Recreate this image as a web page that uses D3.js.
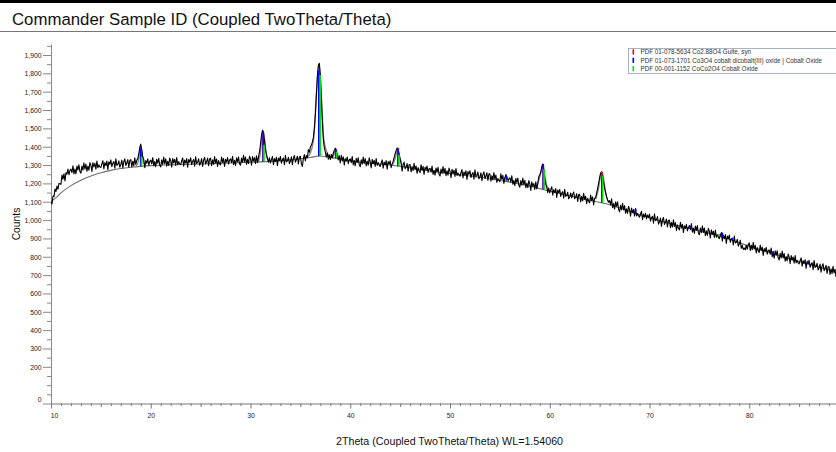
<!DOCTYPE html>
<html>
<head>
<meta charset="utf-8">
<script src="https://cdn.jsdelivr.net/npm/d3@7"></script>
<style>
  body { margin: 0; background: #fff; }
  svg { display: block; font-family: "Liberation Sans", Arial, sans-serif; }
</style>
</head>
<body>
<svg id="chart" width="836" height="452"></svg>
<script>
// scan: 2Theta start / step, counts (one row per degree)
var scanStart = 10.0, scanStep = 0.1;
var counts = [
  1100,1088,1131,1128,1169,1156,1185,1168,1200,1198,
  1195,1246,1223,1252,1214,1259,1250,1278,1247,1271,
  1278,1259,1296,1252,1278,1252,1294,1273,1301,1264,
  1256,1295,1272,1312,1278,1305,1266,1294,1272,1313,
  1299,1265,1313,1290,1310,1278,1322,1285,1301,1290,
  1287,1306,1324,1279,1313,1297,1322,1275,1318,1304,
  1328,1291,1310,1319,1283,1334,1298,1304,1323,1288,
  1304,1327,1284,1319,1334,1298,1311,1330,1288,1325,
  1330,1290,1321,1297,1339,1304,1326,1335,1362,1397,
  1414,1382,1345,1330,1285,1324,1310,1334,1299,1320,
  1327,1306,1341,1295,1319,1291,1332,1310,1337,1299,
  1290,1328,1304,1343,1308,1334,1294,1321,1298,1338,
  1324,1289,1336,1312,1331,1298,1341,1303,1318,1306,
  1303,1322,1339,1294,1327,1311,1335,1288,1330,1316,
  1339,1302,1321,1330,1294,1345,1309,1315,1334,1299,
  1312,1335,1292,1327,1342,1306,1319,1338,1296,1333,
  1337,1297,1328,1304,1346,1311,1333,1293,1324,1307,
  1301,1344,1314,1336,1292,1331,1317,1341,1306,1327,
  1334,1313,1348,1302,1326,1298,1339,1317,1344,1306,
  1300,1338,1314,1353,1318,1344,1304,1331,1308,1348,
  1334,1299,1346,1322,1341,1308,1351,1313,1345,1372,
  1412,1462,1490,1474,1432,1388,1356,1335,1316,1340,
  1311,1330,1347,1302,1335,1319,1343,1296,1338,1324,
  1347,1310,1329,1338,1302,1353,1317,1323,1342,1307,
  1322,1345,1302,1337,1352,1316,1329,1348,1306,1343,
  1348,1308,1292,1335,1357,1322,1352,1340,1384,1370,
  1398,1408,1425,1448,1500,1572,1680,1782,1842,1855,
  1792,1662,1540,1442,1395,1372,1344,1366,1332,1356,
  1330,1358,1338,1366,1380,1392,1370,1352,1328,1350,
  1311,1353,1322,1345,1300,1335,1321,1344,1308,1328,
  1334,1313,1347,1301,1325,1296,1337,1314,1340,1302,
  1291,1329,1305,1344,1309,1335,1295,1322,1299,1339,
  1319,1284,1331,1307,1326,1293,1336,1298,1313,1301,
  1292,1311,1328,1283,1316,1300,1324,1277,1319,1305,
  1323,1286,1305,1320,1342,1362,1380,1393,1384,1358,
  1333,1310,1267,1301,1316,1280,1290,1308,1266,1302,
  1303,1262,1292,1269,1310,1275,1295,1255,1286,1268,
  1259,1302,1271,1293,1249,1288,1273,1295,1260,1280,
  1282,1261,1295,1249,1272,1245,1284,1262,1288,1250,
  1240,1278,1254,1292,1256,1282,1242,1269,1245,1284,
  1266,1231,1277,1254,1272,1238,1281,1243,1257,1245,
  1239,1258,1275,1230,1262,1245,1269,1222,1264,1250,
  1269,1232,1250,1259,1223,1274,1237,1243,1262,1225,
  1235,1258,1215,1249,1263,1227,1239,1258,1216,1252,
  1252,1212,1242,1219,1259,1224,1245,1205,1226,1217,
  1209,1252,1222,1244,1200,1230,1248,1236,1210,1226,
  1230,1208,1242,1195,1217,1188,1228,1205,1229,1190,
  1179,1216,1191,1229,1194,1217,1176,1201,1177,1215,
  1198,1162,1209,1185,1199,1167,1209,1170,1202,1236,
  1247,1262,1290,1306,1268,1225,1193,1180,1150,1175,
  1148,1166,1182,1136,1166,1150,1172,1124,1164,1149,
  1167,1129,1147,1155,1119,1168,1129,1134,1152,1116,
  1126,1148,1121,1140,1153,1116,1126,1144,1101,1139,
  1140,1099,1129,1105,1146,1113,1130,1090,1119,1103,
  1094,1136,1106,1127,1082,1119,1122,1148,1172,1202,
  1232,1256,1263,1240,1206,1175,1150,1126,1110,1098,
  1106,1083,1116,1068,1090,1060,1099,1075,1100,1060,
  1045,1081,1055,1092,1055,1079,1037,1062,1037,1075,
  1058,1021,1066,1040,1057,1022,1063,1023,1036,1024,
  1016,1033,1048,1002,1033,1016,1037,1006,1028,1013,
  1033,994,1013,1021,983,1034,997,1002,1019,978,
  989,1011,966,1000,1014,976,988,1006,963,998,
  1000,958,988,962,1002,965,986,944,973,955,
  946,988,956,977,932,969,954,977,941,960,
  970,948,981,934,957,927,967,944,970,930,
  920,957,931,969,932,957,915,941,916,955,
  938,902,947,922,939,905,946,907,920,907,
  899,916,932,885,917,899,921,873,913,898,
  918,879,896,902,864,913,875,879,895,858,
  869,890,846,862,840,848,838,863,841,867,
  876,834,864,838,879,842,862,821,850,832,
  823,864,833,853,807,845,829,851,814,834,
  837,814,848,800,822,792,832,808,833,794,
  783,819,793,831,794,818,776,801,777,815,
  798,762,807,782,799,765,806,767,780,767,
  761,779,794,748,779,762,784,736,776,761,
  781,743,760,768,730,780,742,747,764,728,
  739,760,716,749,762,724,736,753,709,745,
  746,704,734,708,748,712,732,690
];

// fitted background [2Theta, counts]
var background = [
  [10,1100],[10.5,1122],[11,1148],[12,1188],[13,1217],[14,1240],[15,1258],[16,1271],
  [17,1281],[18,1288],[19,1293],[20,1297],[22,1301],[25,1306],[28,1311],[30,1315],
  [32,1320],[34,1328],[35,1334],[36,1341],[36.9,1349],[38,1342],[39,1333],[40,1323],
  [42,1310],[44,1300],[46,1285],[48,1268],[50,1254],[52,1240],[54,1225],[56,1207],
  [58,1185],[60,1158],[62,1131],[64,1108],[66,1084],[68,1048],[70,1012],[72,982],
  [74,955],[76,928],[78,895],[80,858],[82,824],[84,790],[86,760],[88,728],[88.8,716]
];

// fitted peak profiles
var fitPeaks = [
  [[18.5,1291],[18.75,1320],[18.9,1375],[19.0,1398],[19.1,1372],[19.25,1318],[19.5,1295]],
  [[30.8,1318],[31.0,1372],[31.15,1460],[31.27,1487],[31.4,1450],[31.55,1372],[31.8,1321]],
  [[35.6,1338],[36.0,1366],[36.35,1452],[36.6,1680],[36.87,1850],[37.1,1680],[37.35,1440],[37.7,1364],[38.0,1342]],
  [[38.2,1340],[38.42,1366],[38.55,1388],[38.68,1366],[38.9,1335]],
  [[44.3,1303],[44.55,1346],[44.75,1390],[44.95,1346],[45.2,1298]],
  [[55.4,1213],[55.6,1236],[55.8,1210]],
  [[58.7,1172],[58.95,1226],[59.15,1266],[59.3,1305],[59.45,1262],[59.65,1200],[59.9,1160]],
  [[64.6,1114],[64.9,1176],[65.1,1246],[65.22,1262],[65.35,1240],[65.6,1150],[65.9,1094]]
];

var phaseNames = [
  "PDF 01-078-5634 Co2.88O4 Guite, syn",
  "PDF 01-073-1701 Co3O4 cobalt dicobalt(III) oxide | Cobalt Oxide",
  "PDF 00-001-1152 CoCo2O4 Cobalt Oxide"
];
var phaseColors = ["#ff0000", "#0000ff", "#00e400"];

// reference sticks [2Theta, top in counts]
var sticksRed = [[19.0,1380],[31.27,1470],[36.85,1800],[38.55,1376],[44.8,1394],[59.35,1290],[65.22,1263]];
var sticksBlue = [[19.0,1392],[31.27,1482],[36.85,1818],[38.55,1388],[44.8,1387],[55.65,1240],[59.35,1306],
  [65.22,1234],[68.6,1062],[74.1,966],[77.3,932],[78.3,902],[82.4,831],[85.9,770]];
var sticksGreen = [[19.0,1345],[31.27,1409],[36.9,1791],[38.55,1373],[44.8,1356],[55.65,1219],[59.35,1277],
  [65.22,1241],[76.9,924]];

var yTickLabels = [0,200,300,400,500,600,700,800,900,1000,1100,1200,1300,1400,1500,1600,1700,1800,1900];
var xTickLabels = [10,20,30,40,50,60,70,80];

var svg = d3.select("#chart");
var W = 836, H = 452;

var x = d3.scaleLinear().domain([10, 90]).range([51, 849]);
var y = d3.scaleLinear().domain([0, 1960]).range([403.5, 44]);
var bgAt = d3.scaleLinear().domain(background.map(function(d){ return d[0]; }))
  .range(background.map(function(d){ return d[1]; }));

// header
svg.append("rect").attr("x", 0).attr("y", 0).attr("width", W).attr("height", 3).attr("fill", "#000");
svg.append("text").attr("x", 12).attr("y", 25).attr("font-size", 16.8).attr("fill", "#111")
  .text("Commander Sample ID (Coupled TwoTheta/Theta)");
svg.append("line").attr("x1", 0).attr("x2", W).attr("y1", 31.5).attr("y2", 31.5)
  .attr("stroke", "#777").attr("stroke-width", 1);

svg.append("clipPath").attr("id", "plotclip").append("rect")
  .attr("x", 51).attr("y", 35).attr("width", W - 51).attr("height", 369);

// y axis
var yAxis = d3.axisLeft(y).tickValues(d3.range(0, 1951, 50)).tickSize(4).tickSizeOuter(0)
  .tickFormat(function(d){ return yTickLabels.indexOf(d) >= 0 ? d3.format(",")(d) : ""; });
var gy = svg.append("g").attr("transform", "translate(51,0)").call(yAxis);
gy.select(".domain").attr("stroke", "#888");
gy.selectAll(".tick line").attr("stroke", "#888")
  .attr("x2", function(d){ return yTickLabels.indexOf(d) >= 0 ? -8 : -4; });
gy.selectAll(".tick text").attr("x", -9.5).attr("font-size", 6.8).attr("fill", "#222")
  .attr("font-family", "Liberation Sans, Arial, sans-serif")
  .attr("dy", function(d){ return d === 0 ? "-0.25em" : "0.35em"; });

// x axis
var xAxis = d3.axisBottom(x).tickValues(d3.range(10, 89, 1)).tickSize(2.5).tickSizeOuter(0)
  .tickFormat(function(d){ return xTickLabels.indexOf(d) >= 0 ? d : ""; });
var gx = svg.append("g").attr("transform", "translate(0,403.5)").call(xAxis);
gx.select(".domain").attr("stroke", "#777");
gx.selectAll(".tick line").attr("stroke", "#777")
  .attr("y2", function(d){ return d % 10 === 0 ? 5 : (d % 5 === 0 ? 3.5 : 2.5); });
gx.selectAll(".tick text").attr("y", 14).attr("dy", 0).attr("font-size", 6.8).attr("fill", "#222")
  .attr("font-family", "Liberation Sans, Arial, sans-serif")
  .attr("dx", function(d){ return d === 10 ? 3 : 0; });

// axis titles
svg.append("text").attr("transform", "translate(19.5,224) rotate(-90)")
  .attr("text-anchor", "middle").attr("font-size", 10.3).attr("fill", "#111").text("Counts");
svg.append("text").attr("x", 449.5).attr("y", 444.5).attr("text-anchor", "middle")
  .attr("font-size", 10.7).attr("fill", "#111")
  .text("2Theta (Coupled TwoTheta/Theta) WL=1.54060");

var plot = svg.append("g").attr("clip-path", "url(#plotclip)");

var line = d3.line().x(function(d){ return x(d[0]); }).y(function(d){ return y(d[1]); });

// background and fitted profiles
plot.append("path").datum(background).attr("fill", "none").attr("stroke", "#6e6e6e")
  .attr("stroke-width", 1.1).attr("d", line.curve(d3.curveMonotoneX));
plot.selectAll(".fit").data(fitPeaks).enter().append("path").attr("class", "fit")
  .attr("fill", "none").attr("stroke", "#8a8a8a").attr("stroke-width", 1.4)
  .attr("d", d3.line().x(function(d){ return x(d[0]); }).y(function(d){ return y(d[1]); })
    .curve(d3.curveMonotoneX));

// measured scan
var scan = counts.map(function(c, i){ return [scanStart + i * scanStep, c]; });
plot.append("path").datum(scan).attr("fill", "none").attr("stroke", "#000")
  .attr("stroke-width", 1.1).attr("stroke-linejoin", "round")
  .attr("d", d3.line().x(function(d){ return x(d[0]); }).y(function(d){ return y(d[1]); }));

// reference sticks
function drawSticks(list, color, dx) {
  plot.append("g").selectAll("line").data(list).enter().append("line")
    .attr("x1", function(d){ return x(d[0]) + dx; }).attr("x2", function(d){ return x(d[0]) + dx; })
    .attr("y1", function(d){ return y(bgAt(d[0])); }).attr("y2", function(d){ return y(d[1]); })
    .attr("stroke", color).attr("stroke-width", 1.7);
}
drawSticks(sticksRed, phaseColors[0], 0);
drawSticks(sticksBlue, phaseColors[1], 0);
drawSticks(sticksGreen, phaseColors[2], 0.8);

// legend
var lg = svg.append("g");
lg.append("rect").attr("x", 628.5).attr("y", 48.5).attr("width", 220).attr("height", 25)
  .attr("fill", "#fff").attr("stroke", "#aab3c3").attr("stroke-width", 1);
phaseNames.forEach(function(name, i) {
  var by = 54.3 + i * 8.4;
  lg.append("rect").attr("x", 632.5).attr("y", by - 5).attr("width", 1.6).attr("height", 5.2)
    .attr("fill", phaseColors[i]);
  lg.append("text").attr("x", 640.5).attr("y", by).attr("font-size", 6.3).attr("fill", "#333").text(name);
});
</script>
</body>
</html>
